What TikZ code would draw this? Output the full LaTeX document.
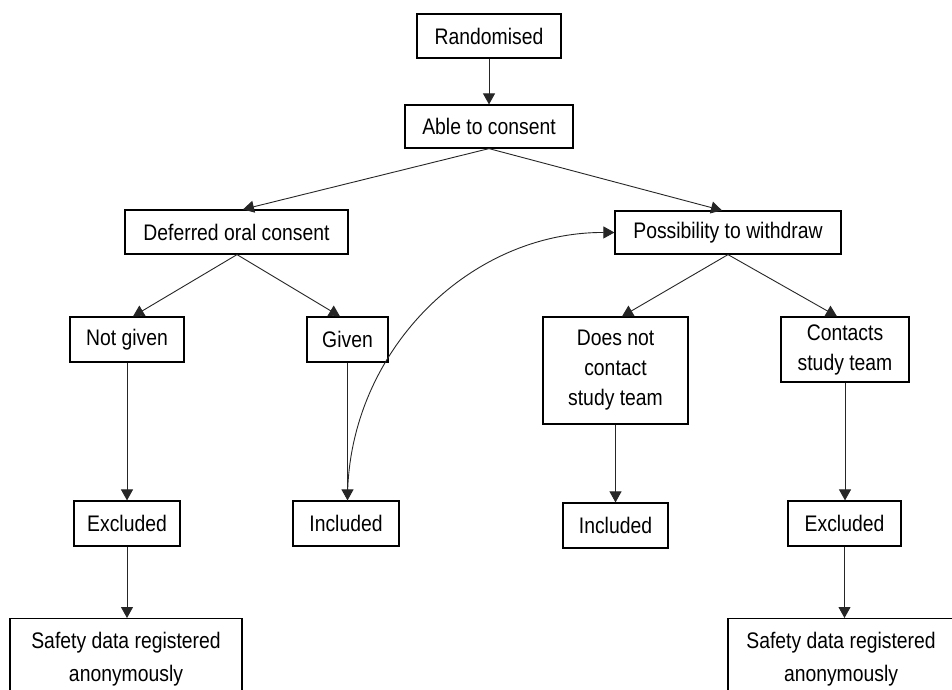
\documentclass[tikz,border=0pt]{standalone}
\usepackage{fontspec}
\setmainfont[FakeStretch=0.86]{Liberation Sans}
\usetikzlibrary{arrows.meta}
\tikzset{
  box/.style={draw=black, line width=1.2pt, fill=white, inner sep=0pt, align=center,
    font=\fontsize{22.5}{30}\selectfont, text=black},
  arr/.style={draw=black!85, line width=0.9pt, -{Triangle[length=11pt,width=12pt]}},
}
\begin{document}
\begin{tikzpicture}[x=1pt,y=-1pt]
\clip (0,0) rectangle (952,689);
\fill[white] (0,0) rectangle (952,689);
\node[box, minimum width=144pt, minimum height=44pt] (rand) at (489,36) {Randomised};
\node[box, minimum width=168pt, minimum height=43pt] (able) at (489,126.5) {Able to consent};
\node[box, minimum width=223pt, minimum height=44pt] (defer) at (236.5,232) {Deferred oral consent};
\node[box, minimum width=226pt, minimum height=43pt] (poss) at (728,232.5) {Possibility to withdraw};
\node[box, minimum width=114pt, minimum height=45pt] (notgiven) at (127,339.5) {Not given};
\node[box, minimum width=81pt, minimum height=45pt] (given) at (347.5,339.5) {Given};
\node[box, minimum width=145pt, minimum height=107pt] (dnc) at (615.5,370.5) {Does not\\contact\\study team};
\node[box, minimum width=128pt, minimum height=65pt] (contacts) at (845,349.5) {Contacts\\study team};
\node[box, minimum width=106pt, minimum height=45pt] (excl1) at (127,523.5) {Excluded};
\node[box, minimum width=106pt, minimum height=45pt] (incl1) at (346,523.5) {Included};
\node[box, minimum width=105pt, minimum height=45pt] (incl2) at (615.5,525.5) {Included};
\node[box, minimum width=113pt, minimum height=45pt] (excl2) at (844.5,523.5) {Excluded};
\node[box, font=\fontsize{22.5}{33}\selectfont, minimum width=232pt, minimum height=81pt, anchor=north] (safe1) at (126,618) {Safety data registered\\anonymously};
\node[box, font=\fontsize{22.5}{33}\selectfont, minimum width=226pt, minimum height=81pt, anchor=north] (safe2) at (841,618) {Safety data registered\\anonymously};
% connectors
\draw[arr] (rand.south) -- (able.north);
\draw[arr] (able.south) -- ([xshift=6.5pt]defer.north);
\draw[arr] (able.south) -- ([xshift=-6pt]poss.north);
\draw[arr] ([xshift=0.5pt]defer.south) -- ([xshift=6pt]notgiven.north);
\draw[arr] ([xshift=0.5pt]defer.south) -- ([xshift=-7.5pt]given.north);
\draw[arr] (poss.south) -- ([xshift=6.5pt]dnc.north);
\draw[arr] (poss.south) -- ([xshift=-8pt]contacts.north);
\draw[arr] (notgiven.south) -- (notgiven.south |- excl1.north);
\draw[arr] (excl1.south) -- (excl1.south |- safe1.north);
\draw[arr] (given.south) -- (given.south |- incl1.north);
\draw[arr] (dnc.south) -- (dnc.south |- incl2.north);
\draw[arr] (contacts.south) -- (contacts.south |- excl2.north);
\draw[arr] (excl2.south) -- (excl2.south |- safe2.north);
\draw[arr] (given.south |- incl1.north) .. controls (347,353) and (468,232) .. (poss.west);
\end{tikzpicture}
\end{document}
